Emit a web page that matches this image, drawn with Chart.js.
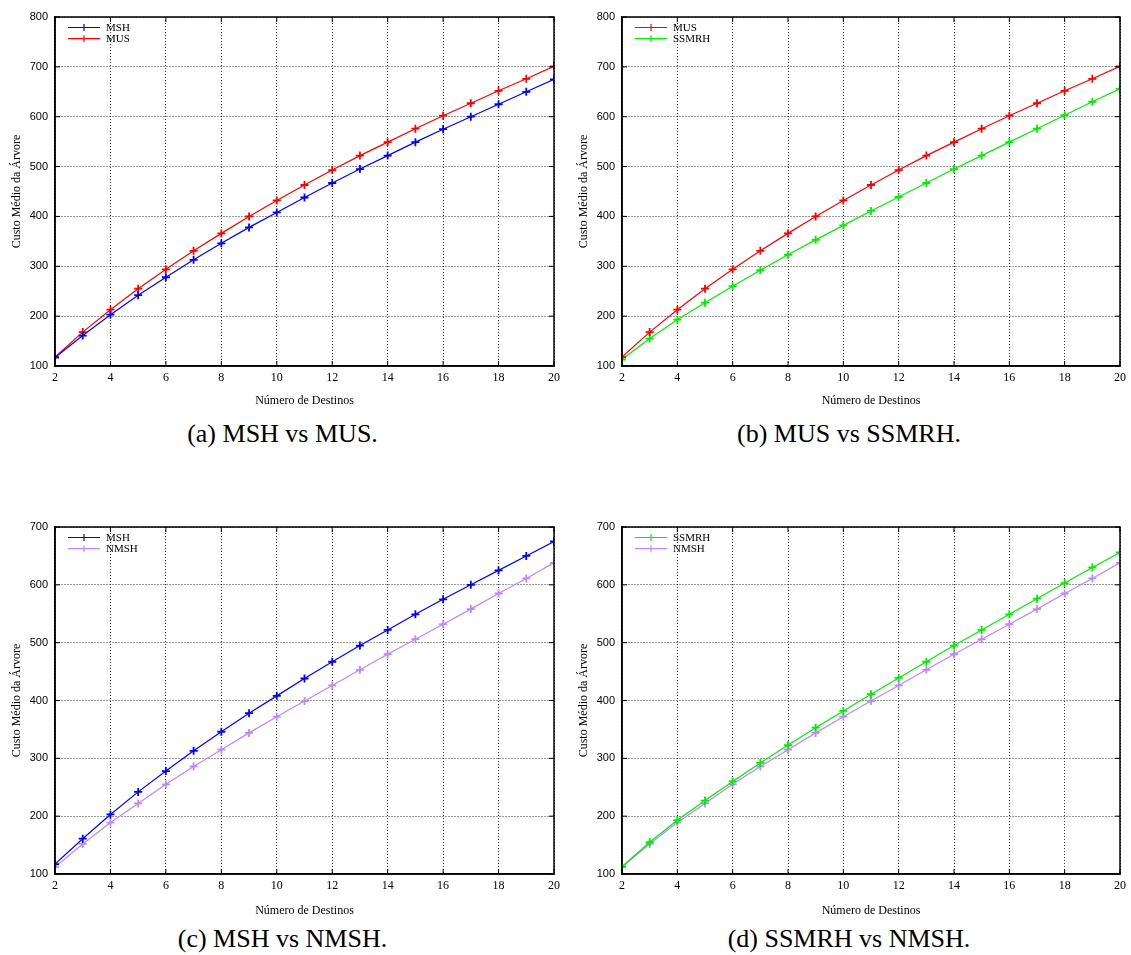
<!DOCTYPE html>
<html>
<head>
<meta charset="utf-8">
<script src="https://cdn.jsdelivr.net/npm/chart.js@4.4.1/dist/chart.umd.min.js"></script>
<style>
    body { margin: 0; background: #fff; }
    #wrap { position: relative; width: 1131px; height: 955px; overflow: hidden; }
    .box { position: absolute; }
    .caption {
        position: absolute;
        font-family: "Liberation Serif", "DejaVu Serif", serif;
        font-size: 26px;
        color: #000;
        text-align: center;
        white-space: nowrap;
    }
</style>
</head>
<body>
<div id="wrap">
    <div class="box" style="left:0;top:0;width:565px;height:410px"><canvas id="chartA"></canvas></div>
    <div class="box" style="left:567px;top:0;width:564px;height:410px"><canvas id="chartB"></canvas></div>
    <div class="box" style="left:0;top:510px;width:565px;height:410px"><canvas id="chartC"></canvas></div>
    <div class="box" style="left:567px;top:510px;width:564px;height:410px"><canvas id="chartD"></canvas></div>
    <div class="caption" style="left:0;width:565px;top:419px">(a) MSH vs MUS.</div>
    <div class="caption" style="left:567px;width:564px;top:419px">(b) MUS vs SSMRH.</div>
    <div class="caption" style="left:0;width:565px;top:924px">(c) MSH vs NMSH.</div>
    <div class="caption" style="left:567px;width:564px;top:924px">(d) SSMRH vs NMSH.</div>
</div>
<script>
// numero de destinos
const destinos = [2, 3, 4, 5, 6, 7, 8, 9, 10, 11, 12, 13, 14, 15, 16, 17, 18, 19, 20];

// custo medio da arvore por algoritmo
const msh = [117, 161, 203, 242, 278, 313, 346, 378, 408, 438, 467, 495, 522, 549, 575, 600, 625, 650, 675];
const mus = [118, 168, 213, 255, 294, 331, 366, 400, 432, 463, 493, 522, 549, 576, 602, 627, 652, 676, 701];
const ssmrh = [113, 155, 193, 227, 260, 292, 323, 353, 382, 411, 439, 467, 495, 522, 549, 576, 603, 630, 656];
const nmsh = [112, 152, 189, 222, 255, 286, 315, 344, 372, 399, 426, 453, 480, 506, 532, 558, 585, 611, 638];

const colors = {
    MSH: "#0000ff",
    MUS: "#ff0000",
    SSMRH: "#00ee00",
    NMSH: "#bb88ff",
};

const serif = "'Liberation Serif', 'DejaVu Serif', serif";
const sans = "'Liberation Sans', Arial, sans-serif";

// borda do grafico, marcas internas e legenda no canto superior esquerdo
const framePlugin = {
    id: "frame",
    afterDraw(chart) {
        const { ctx, chartArea, scales } = chart;
        const { left, right, top, bottom } = chartArea;
        ctx.save();
        ctx.strokeStyle = "#000";
        ctx.lineWidth = 1;
        ctx.beginPath();
        scales.x.ticks.forEach((t) => {
            const x = scales.x.getPixelForValue(t.value);
            ctx.moveTo(x, bottom); ctx.lineTo(x, bottom - 5);
            ctx.moveTo(x, top); ctx.lineTo(x, top + 5);
        });
        scales.y.ticks.forEach((t) => {
            const y = scales.y.getPixelForValue(t.value);
            ctx.moveTo(left, y); ctx.lineTo(left + 5, y);
            ctx.moveTo(right, y); ctx.lineTo(right - 5, y);
        });
        ctx.stroke();
        ctx.lineWidth = 1.5;
        ctx.strokeRect(left, top, right - left, bottom - top);

        chart.data.datasets.forEach((ds, i) => {
            const y = top + 10.5 + i * 11.2;
            const x0 = left + 13;
            const x1 = left + 45;
            const xm = (x0 + x1) / 2;
            ctx.strokeStyle = ds.borderColor;
            ctx.lineWidth = 1.2;
            ctx.beginPath();
            ctx.moveTo(x0, y);
            ctx.lineTo(x1, y);
            ctx.moveTo(xm, y - 3.5);
            ctx.lineTo(xm, y + 3.5);
            ctx.stroke();
            ctx.fillStyle = "#000";
            ctx.font = "11px " + serif;
            ctx.textBaseline = "middle";
            ctx.textAlign = "left";
            ctx.fillText(ds.label, x1 + 6, y + 0.5);
        });
        ctx.restore();
    },
};

function makeSeries(name, values) {
    return {
        label: name,
        data: destinos.map((d, i) => ({ x: d, y: values[i] })),
        borderColor: colors[name],
        backgroundColor: colors[name],
        borderWidth: 1.2,
        pointStyle: "cross",
        pointRadius: 4,
        pointBorderWidth: 1.8,
        tension: 0,
        fill: false,
    };
}

function makeChart(id, series, yMax, xAxisHeight) {
    new Chart(document.getElementById(id), {
        type: "line",
        data: { datasets: series },
        options: {
            responsive: true,
            maintainAspectRatio: false,
            animation: false,
            layout: { padding: { top: 17, right: 9, left: 0, bottom: 0 } },
            plugins: {
                legend: { display: false },
                tooltip: { enabled: false },
            },
            scales: {
                x: {
                    type: "linear",
                    min: 2,
                    max: 20,
                    afterFit: (scale) => { scale.height = xAxisHeight; },
                    ticks: {
                        stepSize: 2,
                        color: "#000",
                        padding: 5,
                        font: { family: serif, size: 12 },
                    },
                    grid: {
                        color: "#000",
                        lineWidth: 0.8,
                        drawTicks: false,
                    },
                    border: { display: true, color: "#000", width: 1.5, dash: [1, 2] },
                    title: {
                        display: true,
                        text: "Número de Destinos",
                        color: "#000",
                        font: { family: serif, size: 12 },
                        padding: { top: 0, bottom: 2 },
                    },
                },
                y: {
                    min: 100,
                    max: yMax,
                    afterFit: (scale) => { scale.width = 55; },
                    ticks: {
                        stepSize: 100,
                        color: "#000",
                        padding: 7,
                        font: { family: sans, size: 11 },
                    },
                    grid: {
                        color: "#000",
                        lineWidth: 0.8,
                        drawTicks: false,
                    },
                    border: { display: true, color: "#000", width: 1.5, dash: [1, 2] },
                    title: {
                        display: true,
                        text: "Custo Médio da Árvore",
                        color: "#000",
                        font: { family: serif, size: 12 },
                        padding: { top: 10, bottom: 0 },
                    },
                },
            },
        },
        plugins: [framePlugin, {
            id: "dotgrid",
            beforeDraw(chart) {
                Object.values(chart.scales).forEach((s) => {
                    s.options.grid.borderDash = [1, 2];
                });
            },
        }],
    });
}

makeChart("chartA", [makeSeries("MSH", msh), makeSeries("MUS", mus)], 800, 44);
makeChart("chartB", [makeSeries("MUS", mus), makeSeries("SSMRH", ssmrh)], 800, 44);
makeChart("chartC", [makeSeries("MSH", msh), makeSeries("NMSH", nmsh)], 700, 46);
makeChart("chartD", [makeSeries("SSMRH", ssmrh), makeSeries("NMSH", nmsh)], 700, 46);
</script>
</body>
</html>
